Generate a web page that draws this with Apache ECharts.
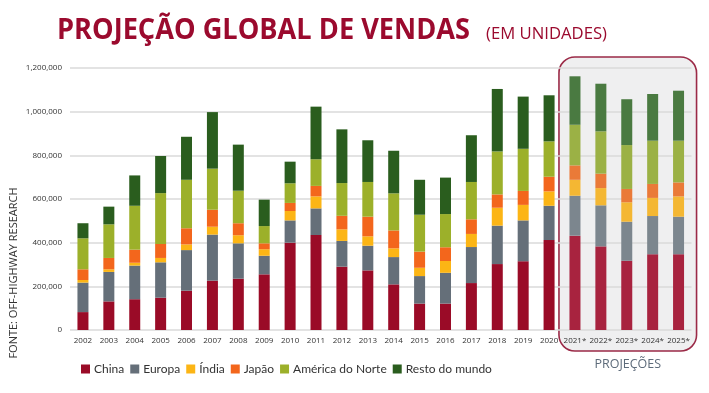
<!DOCTYPE html>
<html><head><meta charset="utf-8">
<script src="https://cdn.jsdelivr.net/npm/echarts@6/dist/echarts.min.js"></script>
<style>html,body{margin:0;padding:0;background:#fff}#c{width:709px;height:393px}</style>
</head><body><div id="c"></div>
<script>
const categories = ['2002','2003','2004','2005','2006','2007','2008','2009','2010','2011','2012','2013','2014','2015','2016','2017','2018','2019','2020','2021*','2022*','2023*','2024*','2025*'];
const china  = [82000,131000,141000,148000,180000,226000,235000,255000,400000,435000,290000,273000,209000,121000,121000,215000,302000,315000,412000,432000,383000,317000,347000,347000];
const europa = [135000,135000,154000,162000,186000,211000,162000,85000,102000,122000,118000,113000,125000,126000,141000,165000,176000,187000,157000,183000,188000,179000,175000,172000];
const india  = [12000,12000,13000,20000,26000,36000,37000,30000,43000,55000,53000,43000,40000,38000,54000,60000,82000,71000,66000,73000,79000,89000,83000,93000];
const japao  = [49000,52000,60000,64000,74000,78000,55000,27000,37000,48000,62000,90000,82000,74000,63000,67000,61000,64000,67000,66000,66000,61000,64000,64000];
const americaNorte = [142000,154000,201000,233000,222000,188000,149000,79000,90000,122000,150000,159000,170000,169000,152000,171000,197000,193000,162000,186000,194000,201000,198000,191000];
const resto  = [69000,81000,139000,170000,197000,259000,211000,121000,99000,241000,246000,191000,195000,160000,167000,214000,286000,239000,211000,222000,218000,210000,214000,229000];
const yTicks = [0,200000,400000,600000,800000,1000000,1200000];
const firstProjection = 19;

const seriesDefs = [
  {name:'China', data:china, color:'#9a0b27', proj:'#a8233f'},
  {name:'Europa', data:europa, color:'#656f79', proj:'#7c868e'},
  {name:'Índia', data:india, color:'#fcb515', proj:'#f4b733'},
  {name:'Japão', data:japao, color:'#f3661c', proj:'#ea7a38'},
  {name:'América do Norte', data:americaNorte, color:'#9cb02a', proj:'#9bb145'},
  {name:'Resto do mundo', data:resto, color:'#2a5d1e', proj:'#4a7a41'}
];

function fitScale(text, font, target){
  const ctx = document.createElement('canvas').getContext('2d');
  ctx.font = font;
  return target / ctx.measureText(text).width;
}

const chart = echarts.init(document.getElementById('c'), null, {renderer:'canvas'});
const fmt = v => v.toLocaleString('en-US');
const option = {
  animation:false,
  backgroundColor:'#fff',
  grid:{left:70, right:17.5, top:68, bottom:63},
  legend:{
    left:81, top:363, padding:0, itemWidth:9, itemHeight:9, itemGap:6, icon:'rect',
    textStyle:{fontFamily:'Lato', fontSize:12, color:'#333', padding:[0,0,0,-1]},
    data:seriesDefs.map(s=>s.name)
  },
  xAxis:{
    type:'category', data:categories,
    axisLine:{show:false}, axisTick:{show:false},
    axisLabel:{fontFamily:'Open Sans', fontSize:8, color:'#333', margin:7, interval:0}
  },
  yAxis:{
    type:'value', min:yTicks[0], max:yTicks[yTicks.length-1], interval:yTicks[1]-yTicks[0],
    axisLine:{show:false}, axisTick:{show:false},
    axisLabel:{fontFamily:'Open Sans', fontSize:8, color:'#333', margin:8, formatter:fmt},
    splitLine:{lineStyle:{color:'#dadada', width:1.5}}
  },
  series:seriesDefs.map(s=>({
    name:s.name, type:'bar', stack:'total', barWidth:11,
    itemStyle:{color:s.color},
    data:s.data.map((v,i)=> i>=firstProjection ? {value:v, itemStyle:{color:s.proj}} : v)
  }))
};
chart.setOption(option);

const p0 = chart.convertToPixel({gridIndex:0},[categories[firstProjection], yTicks[yTicks.length-1]]);
const p1 = chart.convertToPixel({gridIndex:0},[categories[categories.length-1], 0]);
const boxL = p0[0]-16, boxR = p1[0]+18, boxT = p0[1]-11, boxB = p1[1]+21;

const titleFont = 'bold 28px "Open Sans", sans-serif';
const subFont = '17px "Open Sans", sans-serif';
const titleText = 'PROJEÇÃO GLOBAL DE VENDAS';
const subText = '(EM UNIDADES)';

chart.setOption({
  graphic:[
    {type:'rect', z:-10, silent:true,
     shape:{x:boxL, y:boxT, width:boxR-boxL, height:boxB-boxT, r:16},
     style:{fill:'#efeff0', stroke:'#9b2a47', lineWidth:1.6}},
    {type:'text', z:10, style:{x:(boxL+boxR)/2, y:boxB+13, text:'PROJEÇÕES', textAlign:'center', textVerticalAlign:'middle',
      font:'12.5px "Open Sans"', fill:'#5d6b7a'}},
    {type:'text', z:10, x:57, y:31, scaleX:fitScale(titleText, titleFont, 413),
     style:{x:0, y:0, text:titleText, textAlign:'left', textVerticalAlign:'middle', font:titleFont, fill:'#9b0a2e'}},
    {type:'text', z:10, x:486, y:34, scaleX:fitScale(subText, subFont, 121),
     style:{x:0, y:0, text:subText, textAlign:'left', textVerticalAlign:'middle', font:subFont, fill:'#9b0a2e'}},
    {type:'text', z:10, x:14, y:273, rotation:Math.PI/2,
     style:{x:0, y:0, text:'FONTE: OFF-HIGHWAY RESEARCH', textAlign:'center', textVerticalAlign:'middle',
      font:'11px "Open Sans"', fill:'#333'}}
  ]
});
</script></body></html>
